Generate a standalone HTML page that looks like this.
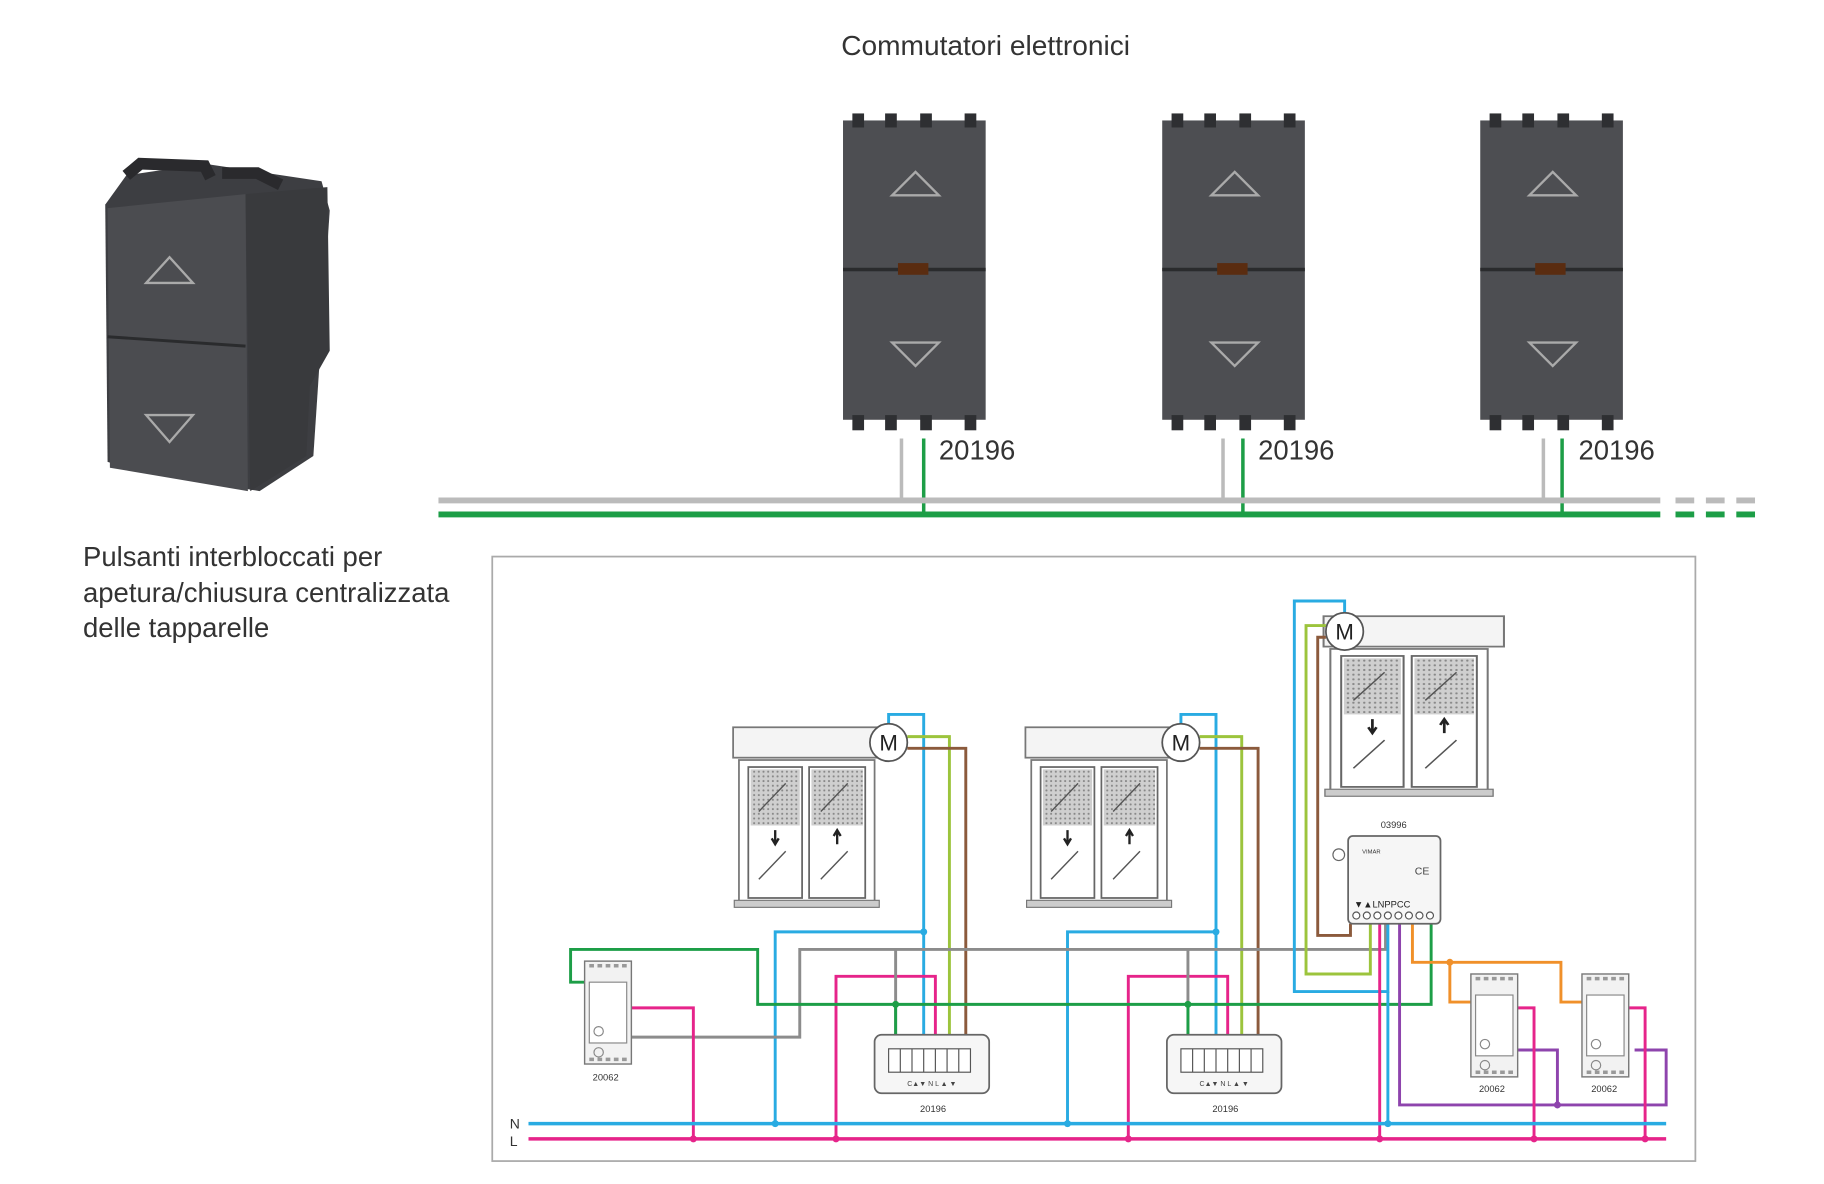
<!DOCTYPE html>
<html><head><meta charset="utf-8"><style>
html,body{margin:0;padding:0;background:#fff;}
svg{display:block;}
text{font-family:"Liberation Sans",sans-serif;}
</style></head><body>
<svg width="1824" height="1184" viewBox="0 0 1560 1012.6" xmlns="http://www.w3.org/2000/svg">
<defs>
<pattern id="dots" width="4" height="4" patternUnits="userSpaceOnUse"><rect width="4" height="4" fill="#cfcfcf"/><circle cx="2" cy="2" r="0.9" fill="#888"/></pattern>
<g id="mod">
  <rect x="0" y="6" width="122" height="256" fill="#4d4e52"/>
  <rect x="8" y="0" width="10" height="12" fill="#2e2f32"/><rect x="36" y="0" width="10" height="12" fill="#2e2f32"/><rect x="66" y="0" width="10" height="12" fill="#2e2f32"/><rect x="104" y="0" width="10" height="12" fill="#2e2f32"/>
  <rect x="8" y="258" width="10" height="13" fill="#2e2f32"/><rect x="36" y="258" width="10" height="13" fill="#2e2f32"/><rect x="66" y="258" width="10" height="13" fill="#2e2f32"/><rect x="104" y="258" width="10" height="13" fill="#2e2f32"/>
  <rect x="0" y="132" width="122" height="3" fill="#2a2b2d"/>
  <rect x="47" y="128" width="26" height="10" fill="#5a2c10"/>
  <path d="M42 70 L62 50 L82 70 Z" fill="none" stroke="#aaa" stroke-width="2"/>
  <path d="M42 196 H82 L62 216 Z" fill="none" stroke="#aaa" stroke-width="2"/>
</g>
<g id="win">
  <rect x="0" y="0" width="133" height="26" fill="#f4f4f4" stroke="#777" stroke-width="1.5"/>
  <rect x="5" y="28" width="116" height="122" fill="#fff" stroke="#777" stroke-width="1.5"/>
  <rect x="13" y="34" width="46" height="112" fill="#fff" stroke="#666" stroke-width="1.5"/>
  <rect x="65" y="34" width="48" height="112" fill="#fff" stroke="#666" stroke-width="1.5"/>
  <rect x="15" y="36" width="42" height="48" fill="url(#dots)"/>
  <rect x="67" y="36" width="44" height="48" fill="url(#dots)"/>
  <path d="M22 72 L45 48 M75 72 L98 48 M22 130 L45 106 M75 130 L98 106" stroke="#555" stroke-width="1.2"/>
  <path d="M36 88 V98 M33 95 L36 100 L39 95 M89 100 V90 M86 93 L89 88 L92 93" stroke="#222" stroke-width="2" fill="none"/>
  <rect x="1" y="148" width="124" height="6" fill="#ccc" stroke="#777"/>
</g>
<g id="sw">
  <rect x="0" y="0" width="40" height="88" fill="#f2f2f2" stroke="#777" stroke-width="1.2"/>
  <rect x="4" y="18" width="32" height="52" fill="#fff" stroke="#888"/>
  <circle cx="12" cy="78" r="4" fill="none" stroke="#888"/><circle cx="12" cy="60" r="4" fill="none" stroke="#888"/>
  <path d="M4 4 h32 M4 84 h32" stroke="#999" stroke-width="3" stroke-dasharray="4 3"/>
</g>
<g id="cm">
  <rect x="0" y="0" width="98" height="50" rx="6" fill="#f6f6f6" stroke="#666" stroke-width="1.5"/>
  <rect x="12" y="12" width="70" height="20" fill="#fff" stroke="#555"/>
  <path d="M22 12v20M32 12v20M42 12v20M52 12v20M62 12v20M72 12v20" stroke="#555"/>
  <text x="49" y="44" font-size="6" text-anchor="middle" fill="#444">C▲▼ N L ▲ ▼</text>
</g>
</defs>

<text x="843" y="47" font-size="24" text-anchor="middle" fill="#333" textLength="247" lengthAdjust="spacingAndGlyphs">Commutatori elettronici</text>

<!-- left module -->
<polygon points="108,150 175,140 275,155 282,180 268,390 222,420 115,402 92,395 90,175" fill="#3d3e42"/>
<polygon points="92,178 210,166 212,420 94,400" fill="#4b4c50"/>
<polygon points="210,166 280,160 282,300 265,330 262,390 214,420" fill="#393a3d"/>
<path d="M108 150 L120 140 L175 142 L180 152 M190 148 L220 148 L240 158" stroke="#2a2a2d" stroke-width="10" fill="none"/>
<line x1="92" y1="288" x2="210" y2="296" stroke="#2a2b2d" stroke-width="2.5"/>
<path d="M125 242 L145 220 L165 242 Z" fill="none" stroke="#aaa" stroke-width="2"/>
<path d="M125 355 H165 L145 378 Z" fill="none" stroke="#aaa" stroke-width="2"/>

<use href="#mod" x="721" y="97"/>
<use href="#mod" x="994" y="97"/>
<use href="#mod" x="1266" y="97"/>

<g font-size="23.5" fill="#333">
<text x="803" y="393">20196</text><text x="1076" y="393">20196</text><text x="1350" y="393">20196</text>
</g>
<g stroke-width="3">
<path d="M771 375V428M1046 375V428M1320 375V428" stroke="#bbb"/>
<path d="M790 375V440M1063 375V440M1336 375V440" stroke="#1d9e47"/>
</g>
<line x1="375" y1="428" x2="1420" y2="428" stroke="#bbb" stroke-width="5"/>
<line x1="1433" y1="428" x2="1505" y2="428" stroke="#bbb" stroke-width="5" stroke-dasharray="16 10"/>
<line x1="375" y1="440" x2="1420" y2="440" stroke="#1d9e47" stroke-width="5"/>
<line x1="1433" y1="440" x2="1505" y2="440" stroke="#1d9e47" stroke-width="5" stroke-dasharray="16 10"/>

<g font-size="23.5" fill="#333">
<text x="71" y="484">Pulsanti interbloccati per</text>
<text x="71" y="515">apetura/chiusura centralizzata</text>
<text x="71" y="545">delle tapparelle</text>
</g>

<rect x="421" y="476" width="1029" height="517" fill="#fff" stroke="#aaa" stroke-width="1.5"/>

<use href="#win" x="627" y="622"/>
<use href="#win" x="877" y="622"/>
<g transform="translate(1132,527) scale(1.16,1)"><use href="#win"/></g>

<g fill="none" stroke-width="2.5">
<path d="M760 619V611H790V890" stroke="#29abe2"/>
<path d="M776 630H812V890" stroke="#9cc43c"/>
<path d="M776 640H826V890" stroke="#8b5a3c"/>
<path d="M663 961V797H790" stroke="#29abe2"/>
<path d="M715 974V835H800V890" stroke="#e6248a"/>
<path d="M766 812V890" stroke="#8c8c8c"/>
<path d="M1010 619V611H1040V890" stroke="#29abe2"/>
<path d="M1026 630H1062V890" stroke="#9cc43c"/>
<path d="M1026 640H1076V890" stroke="#8b5a3c"/>
<path d="M913 961V797H1040" stroke="#29abe2"/>
<path d="M965 974V835H1050V890" stroke="#e6248a"/>
<path d="M1016 812V890" stroke="#8c8c8c"/>
<path d="M540 887H684V812H1185V790" stroke="#8c8c8c"/>
<path d="M500 840H488V812H648V859H1224V790" stroke="#1d9e47"/>
<path d="M766 859V890M1016 859V890" stroke="#1d9e47"/>
<path d="M530 862H593V974" stroke="#e6248a"/>
<path d="M1150 524V514H1107V848H1187V790" stroke="#29abe2"/>
<path d="M1187 848V961" stroke="#29abe2"/>
<path d="M1134 535H1117V833H1172V790" stroke="#9cc43c"/>
<path d="M1134 545H1127V800H1155V790" stroke="#8b5a3c"/>
<path d="M1180 790V974" stroke="#e6248a"/>
<path d="M1208 790V823H1335V857H1358M1240 823V857H1262" stroke="#f0902a"/>
<path d="M1197 790V945H1425V898H1398M1332 945V898H1292" stroke="#8e44ad"/>
<path d="M1290 862H1312V974M1385 862H1407V974" stroke="#e6248a"/>
<path d="M452 961H1425" stroke="#29abe2" stroke-width="3"/>
<path d="M452 974H1425" stroke="#e6248a" stroke-width="3"/>
</g>
<g fill="#29abe2"><circle cx="790" cy="797" r="3"/><circle cx="1040" cy="797" r="3"/><circle cx="663" cy="961" r="3"/><circle cx="913" cy="961" r="3"/><circle cx="1187" cy="961" r="3"/></g>
<g fill="#e6248a"><circle cx="593" cy="974" r="3"/><circle cx="715" cy="974" r="3"/><circle cx="965" cy="974" r="3"/><circle cx="1180" cy="974" r="3"/><circle cx="1312" cy="974" r="3"/><circle cx="1407" cy="974" r="3"/></g>
<g fill="#1d9e47"><circle cx="766" cy="859" r="3"/><circle cx="1016" cy="859" r="3"/></g>
<circle cx="1240" cy="823" r="3" fill="#f0902a"/><circle cx="1332" cy="945" r="3" fill="#8e44ad"/>

<g fill="#fff" stroke="#555" stroke-width="1.5">
<circle cx="760" cy="635" r="16"/><circle cx="1010" cy="635" r="16"/><circle cx="1150" cy="540" r="16"/>
</g>
<g font-size="19" text-anchor="middle" fill="#222"><text x="760" y="642">M</text><text x="1010" y="642">M</text><text x="1150" y="547">M</text></g>

<use href="#sw" x="500" y="822"/>
<use href="#sw" x="1258" y="833"/>
<use href="#sw" x="1353" y="833"/>
<use href="#cm" x="748" y="885"/>
<use href="#cm" x="998" y="885"/>

<rect x="1153" y="715" width="79" height="75" rx="4" fill="#f6f6f6" stroke="#666" stroke-width="1.5"/>
<circle cx="1145" cy="731" r="5" fill="#fff" stroke="#666"/>
<text x="1165" y="730" font-size="5" fill="#333">VIMAR</text>
<text x="1210" y="748" font-size="9" fill="#444">CE</text>
<text x="1158" y="776" font-size="8" fill="#222">▼▲LNPPCC</text>
<g fill="#fff" stroke="#555"><circle cx="1160" cy="783" r="3"/><circle cx="1169" cy="783" r="3"/><circle cx="1178" cy="783" r="3"/><circle cx="1187" cy="783" r="3"/><circle cx="1196" cy="783" r="3"/><circle cx="1205" cy="783" r="3"/><circle cx="1214" cy="783" r="3"/><circle cx="1223" cy="783" r="3"/></g>

<g font-size="8" text-anchor="middle" fill="#333">
<text x="1192" y="708">03996</text>
<text x="518" y="924">20062</text><text x="1276" y="934">20062</text><text x="1372" y="934">20062</text>
<text x="798" y="951">20196</text><text x="1048" y="951">20196</text>
</g>
<text x="436" y="965" font-size="12" fill="#333">N</text>
<text x="436" y="980" font-size="12" fill="#333">L</text>
</svg>
</body></html>
